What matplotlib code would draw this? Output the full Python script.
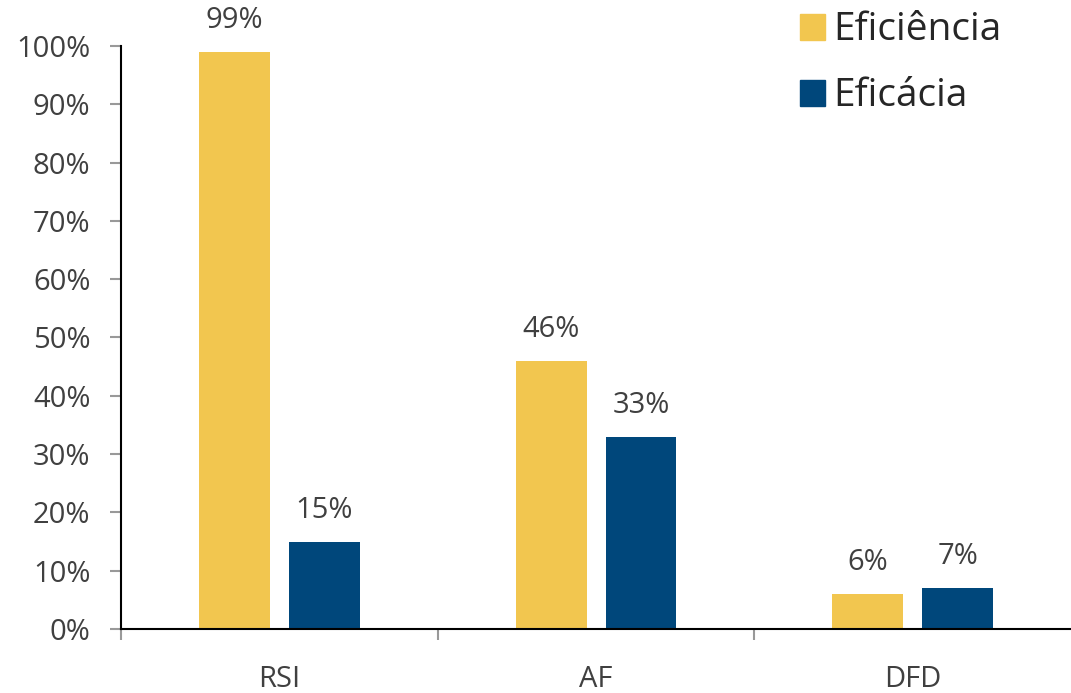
import numpy as np
import matplotlib.pyplot as plt
from matplotlib.patches import Patch
from matplotlib.ticker import PercentFormatter

# dados do gráfico
categorias = ["RSI", "AF", "DFD"]
eficiencia = [99, 46, 6]
eficacia = [15, 33, 7]

cor_eficiencia = "#F2C64F"
cor_eficacia = "#00477B"
cor_texto = "#404040"

plt.rcParams["font.family"] = ["Open Sans", "DejaVu Sans"]

fig = plt.figure(figsize=(10.71, 6.93), dpi=100)
ax = fig.add_axes([0.113, 0.0924, 0.887, 0.8412])

x = np.arange(len(categorias))
largura = 0.224
desloc = 0.142

b1 = ax.bar(x - desloc, eficiencia, largura, color=cor_eficiencia)
b2 = ax.bar(x + desloc, eficacia, largura, color=cor_eficacia)

# rótulos de valor em cima das barras
for barras, valores in [(b1, eficiencia), (b2, eficacia)]:
    for b, v in zip(barras, valores):
        ax.annotate(f"{v}%", (b.get_x() + b.get_width() / 2, v),
                    xytext=(0, 12), textcoords="offset points",
                    ha="center", va="bottom", fontsize=21,
                    color=cor_texto, annotation_clip=False)

ax.set_xlim(-0.5, 2.5)
ax.set_ylim(0, 100)
ax.set_yticks(np.arange(0, 101, 10))
ax.yaxis.set_major_formatter(PercentFormatter(decimals=0))

# ticks do eixo x nas divisões entre categorias, nomes no centro
ax.set_xticks([-0.5, 0.5, 1.5])
ax.set_xticklabels([])
ax.set_xticks(x, minor=True)
ax.set_xticklabels(categorias, minor=True)
ax.tick_params(axis="x", which="major", length=8, width=1.5, color="#999999", direction="out")
ax.tick_params(axis="x", which="minor", length=0, pad=26, labelsize=21, labelcolor=cor_texto)
ax.tick_params(axis="y", length=8, width=1.5, color="#999999", pad=14,
               labelsize=21, labelcolor=cor_texto)

for lado in ["top", "right"]:
    ax.spines[lado].set_visible(False)
ax.spines["left"].set_linewidth(1.5)
ax.spines["bottom"].set_linewidth(1.5)

handles = [Patch(color=cor_eficiencia, label="Eficiência"),
           Patch(color=cor_eficacia, label="Eficácia")]
fig.legend(handles=handles, loc="upper left", bbox_to_anchor=(0.714, 1.034),
           frameon=False, fontsize=28, handlelength=0.65, handleheight=0.65,
           handletextpad=0.22, labelspacing=0.72, labelcolor="#262626")

fig.savefig("out.png", dpi=100)
